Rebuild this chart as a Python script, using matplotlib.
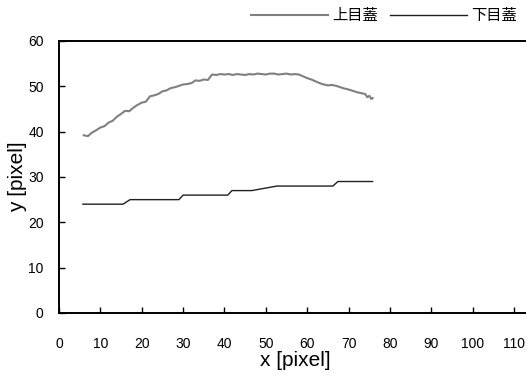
import matplotlib
matplotlib.use("Agg")
import matplotlib.pyplot as plt

plt.rcParams['font.family'] = ['Liberation Sans', 'Noto Sans CJK JP', 'DejaVu Sans']

# ---------- upper eyelid ---------- #
upper_x = [6, 7, 8, 9, 10, 11, 12, 13, 14, 15, 16, 17, 18, 19, 20, 21, 22, 23, 24, 25,
           26, 27, 28, 29, 30, 31, 32, 33, 34, 35, 36, 37, 38, 39, 40, 41, 42, 43, 44, 45,
           46, 47, 48, 49, 50, 51, 52, 53, 54, 55, 56, 57, 58, 59, 60, 61, 62, 63, 64, 65,
           66, 67, 68, 69, 70, 71, 72, 73, 74, 74.5, 75, 75.5, 75.8]
upper_y = [39.2, 39.0, 39.8, 40.3, 40.9, 41.2, 42.0, 42.4, 43.3, 43.9, 44.6, 44.5, 45.3, 45.9, 46.4,
           46.6, 47.8, 48.0, 48.3, 48.9, 49.1, 49.6, 49.8, 50.1, 50.4, 50.5, 50.7, 51.3, 51.2, 51.5,
           51.4, 52.6, 52.5, 52.7, 52.6, 52.7, 52.5, 52.7, 52.6, 52.5, 52.7, 52.6, 52.8, 52.7, 52.6,
           52.8, 52.8, 52.6, 52.7, 52.8, 52.6, 52.7, 52.6, 52.2, 51.8, 51.5, 51.1, 50.7, 50.4, 50.2,
           50.3, 50.1, 49.8, 49.5, 49.3, 49.0, 48.7, 48.5, 48.3, 47.6, 47.9, 47.2, 47.4]

# ---------- lower eyelid ---------- #
lower_x = [5.8, 15.5, 17.2, 29, 30, 40.8, 41.8, 46.6, 52.7, 66.2, 67.4, 75.8]
lower_y = [24, 24, 25, 25, 26, 26, 27, 27, 28, 28, 29, 29]

fig = plt.figure(figsize=(5.26, 3.78), dpi=100)
ax = fig.add_axes([0.112, 0.172, 0.897, 0.7196])

l1, = ax.plot(upper_x, upper_y, color='#808080', lw=1.5, label='上目蓋')
l2, = ax.plot(lower_x, lower_y, color='#202020', lw=1.0, label='下目蓋')

ax.set_xlim(0, 114)
ax.set_ylim(0, 60)
ax.set_xticks(range(0, 120, 10))
ax.set_yticks(range(0, 70, 10))
ax.tick_params(direction='in', length=4, width=1, labelsize=10)
ax.tick_params(axis='x', pad=17)
ax.tick_params(axis='y', pad=11)
for s in ax.spines.values():
    s.set_linewidth(1.4)
ax.spines['right'].set_visible(False)

ax.set_xlabel('x [pixel]', fontsize=15, labelpad=0)
ax.set_ylabel('y [pixel]', fontsize=15)
ax.yaxis.set_label_coords(-0.068, 0.5)

fig.legend(handles=[l1, l2], loc='upper right', bbox_to_anchor=(1.0, 1.0),
           ncol=2, frameon=False, fontsize=11, handlelength=5.0,
           handletextpad=0.3, columnspacing=0.8, borderaxespad=0.2)

fig.savefig('out.png', dpi=100)
